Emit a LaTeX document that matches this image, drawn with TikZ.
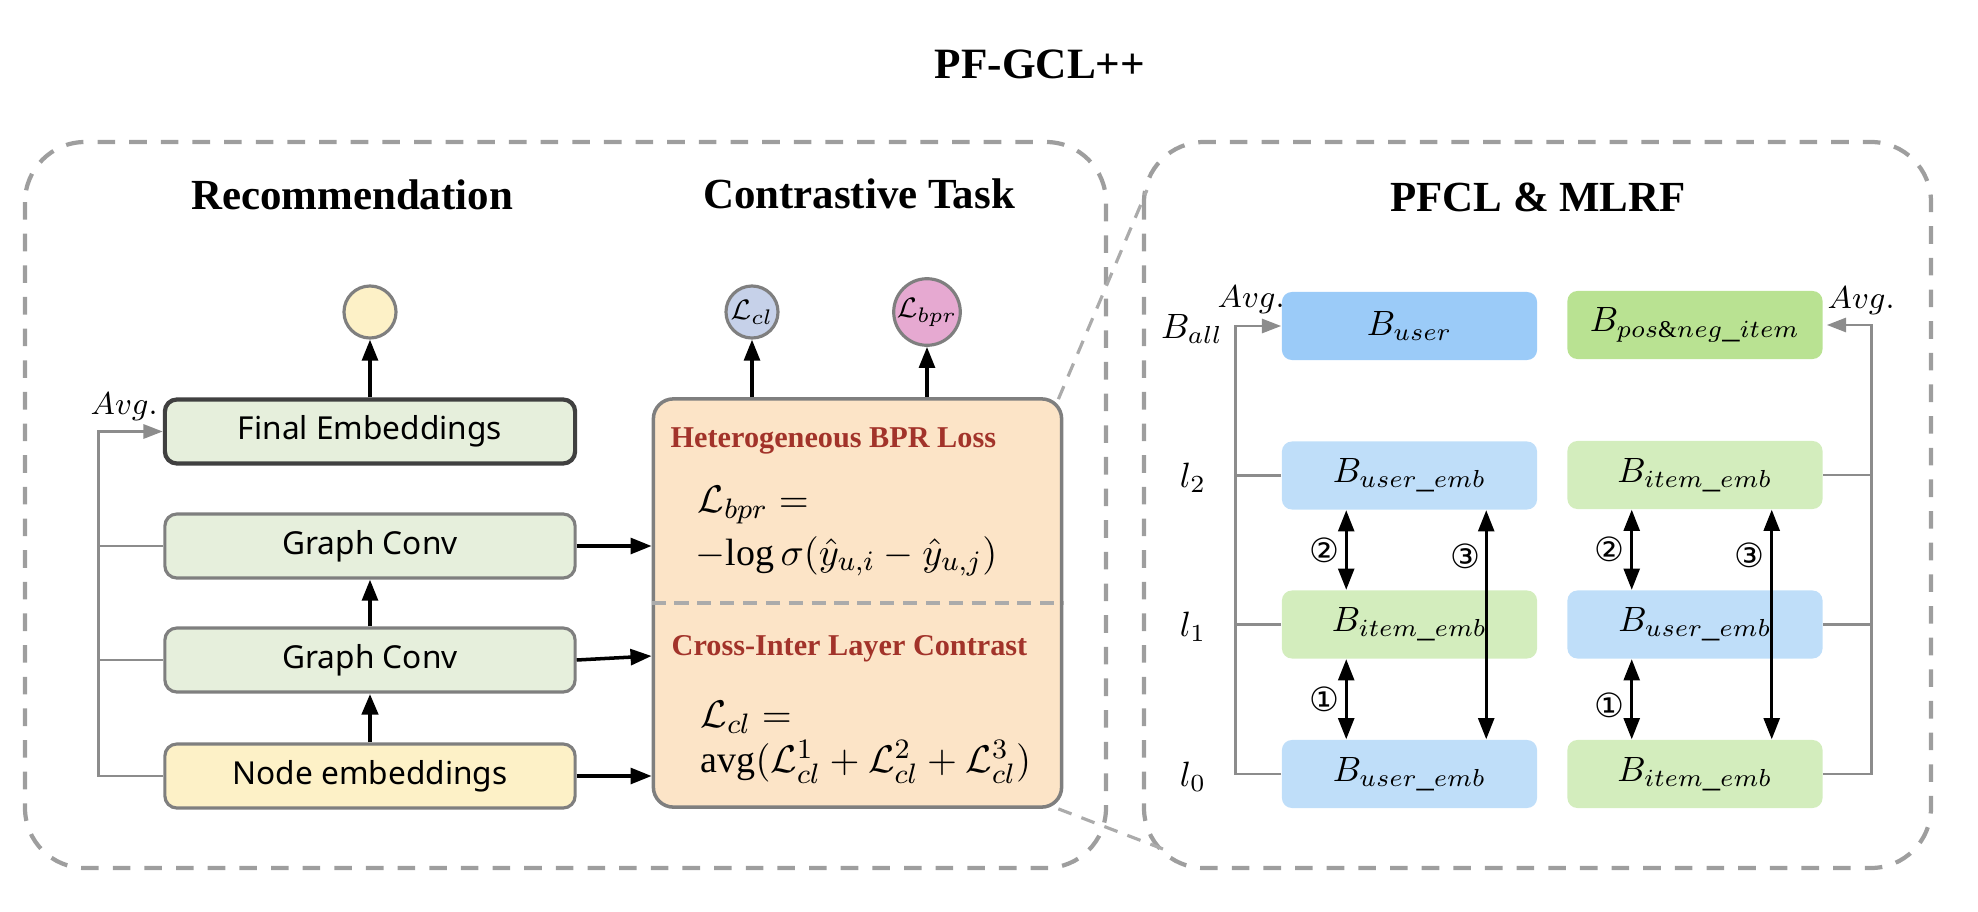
\documentclass[tikz,border=0pt]{standalone}
\usepackage{fontspec}
\setmainfont{Liberation Serif}
\newfontfamily\notosans{Noto Sans}
\newfontfamily\dejavu{DejaVu Sans}
\usetikzlibrary{arrows.meta,calc,positioning}

\definecolor{panelgray}{HTML}{9E9E9E}
\definecolor{zoomgray}{HTML}{ABABAB}
\definecolor{boxgray}{HTML}{7F7F7F}
\definecolor{finborder}{HTML}{404040}
\definecolor{avggray}{HTML}{8C8C8C}
\definecolor{convgreen}{HTML}{E6EFDC}
\definecolor{embyellow}{HTML}{FDF1C7}
\definecolor{lossorange}{HTML}{FCE4C7}
\definecolor{headred}{HTML}{A2332A}
\definecolor{clblue}{HTML}{C6D1E9}
\definecolor{bprpink}{HTML}{E6A9D1}
\definecolor{userblue}{HTML}{9BCBF8}
\definecolor{itemgreen}{HTML}{B9E292}
\definecolor{userlight}{HTML}{BFDEF9}
\definecolor{itemlight}{HTML}{D3EDBD}

\tikzset{
  panel/.style={draw=panelgray, line width=1.2pt, dash pattern=on 5pt off 4pt, rounded corners=0.6cm},
  zoomline/.style={draw=zoomgray, line width=0.9pt, dash pattern=on 4pt off 3pt},
  bigtitle/.style={font=\bfseries\fontsize{12.3}{15}\selectfont},
  paneltitle/.style={font=\bfseries\fontsize{12.2}{14}\selectfont},
  layer/.style={draw=boxgray, line width=0.9pt, rounded corners=0.12cm, fill=convgreen,
    minimum width=4.1cm, minimum height=0.64cm, inner sep=0pt, font=\notosans\fontsize{9}{11}\selectfont},
  outnode/.style={circle, draw=boxgray, line width=0.9pt, minimum size=0.52cm, inner sep=0pt,
    font=\fontsize{8.5}{10}\selectfont},
  lossbox/.style={draw=boxgray, line width=1pt, rounded corners=0.2cm, fill=lossorange,
    minimum width=4.08cm, minimum height=4.08cm},
  losshead/.style={anchor=base west, inner sep=0pt, text=headred, font=\bfseries\fontsize{8.6}{10}\selectfont},
  lossmath/.style={anchor=base west, inner sep=0pt, font=\fontsize{10.8}{12}\selectfont},
  sep/.style={draw=zoomgray, line width=1pt, dash pattern=on 4pt off 2.5pt},
  blk/.style={rounded corners=0.1cm, minimum width=2.55cm, minimum height=0.68cm, inner sep=0pt,
    font=\fontsize{9.8}{11}\selectfont},
  lbl/.style={anchor=base, inner sep=0pt, font=\fontsize{10}{11}\selectfont},
  avglbl/.style={anchor=base west, inner sep=0pt, font=\fontsize{8.8}{10}\selectfont},
  numlbl/.style={inner sep=0pt, font=\dejavu\fontsize{9.5}{10}\selectfont},
  arr/.style={draw=black, line width=1pt, -{Triangle[length=6pt,width=4.5pt]}},
  dblarr/.style={draw=black, line width=0.8pt, {Triangle[length=6pt,width=4.5pt]}-{Triangle[length=6pt,width=4.5pt]}},
  avgline/.style={draw=avggray, line width=0.8pt},
  avgarrow/.style={avgline, -{Triangle[length=5.5pt,width=4pt]}}
}

\begin{document}
\begin{tikzpicture}[x=0.01cm, y=-0.01cm]
\useasboundingbox (0,0) rectangle (1978,912);

\draw[panel] (25,142) rectangle (1106,868);
\draw[panel] (1144,142) rectangle (1931,868);

\node[bigtitle, anchor=base] (ttl) at (1040,78) {PF-GCL++};
\node[paneltitle, anchor=base] (trec) at (352,209) {Recommendation};
\node[paneltitle, anchor=base] (tcon) at (859,208) {Contrastive Task};
\node[paneltitle, anchor=base] (tpf) at (1538,211) {PFCL \& MLRF};

% recommendation
\node[layer, draw=finborder, line width=1.2pt] (fin) at (370,431.5) {Final Embeddings};
\node[layer] (gc2) at (370,546) {Graph Conv};
\node[layer] (gc1) at (370,660) {Graph Conv};
\node[layer, fill=embyellow] (emb) at (370,776) {Node embeddings};
\node[outnode, fill=embyellow] (out) at (370,312) {};

\draw[arr] (fin.north) -- (out.south);
\draw[arr] (gc1.north) -- (gc2.south);
\draw[arr, line width=1.4pt] (emb.north) -- (gc1.south);

\draw[avgarrow] (emb.west) -- ++(-65,0) |- (fin.west);
\foreach \n in {gc2,gc1}
  \draw[avgline] (\n.west) -- ++(-65,0);
\node[avglbl] (avgrec) at (90,414) {$Avg.$};

% contrastive task
\node[lossbox] (cont) at (857.5,603) {};
\draw[sep] (cont.west) -- (cont.east);
\node[losshead] (hbpr) at (670,447) {Heterogeneous BPR Loss};
\node[lossmath] (fbpra) at (697,512) {$\mathcal{L}_{bpr} =$};
\node[lossmath] (fbprb) at (695,565) {$-\mathrm{log}\,\sigma(\hat{y}_{u,i} - \hat{y}_{u,j})$};
\node[losshead] (hcl) at (671,655) {Cross-Inter Layer Contrast};
\node[lossmath] (fcla) at (700,727) {$\mathcal{L}_{cl} =$};
\node[lossmath] (fclb) at (700,772) {$\mathrm{avg}(\mathcal{L}^1_{cl} + \mathcal{L}^2_{cl} + \mathcal{L}^3_{cl})$};

\node[outnode, fill=clblue] (lcl) at (752,312) {$\mathcal{L}_{cl}$};
\node[outnode, fill=bprpink] (lbpr) at (927,312) {$\mathcal{L}_{bpr}$};
\draw[arr] (cont.north -| lcl) -- (lcl.south);
\draw[arr] (cont.north -| lbpr) -- (lbpr.south);

\draw[arr] (gc2.east) -- (gc2.east -| cont.west);
\draw[arr] (gc1.east) -- ($(gc1.east -| cont.west)+(0,-4)$);
\draw[arr] (emb.east) -- (emb.east -| cont.west);

% zoom lines
\coordinate (pfnw) at (1147,190);
\coordinate (pfsw) at (1163,849);
\draw[zoomline] ($(cont.north east)+(-5,2)$) -- (pfnw);
\draw[zoomline] ($(cont.south east)+(-5,0)$) -- (pfsw);

% PFCL & MLRF
\node[blk, fill=userblue] (bu) at (1409.5,326) {$B_{user}$};
\node[blk, fill=itemgreen] (bp) at (1695,325) {$B_{pos\&neg\_item}$};
\node[blk, fill=userlight] (lu2) at (1409.5,475.5) {$B_{user\_emb}$};
\node[blk, fill=itemlight] (ri2) at (1695,475) {$B_{item\_emb}$};
\node[blk, fill=itemlight] (li1) at (1409.5,624.5) {$B_{item\_emb}$};
\node[blk, fill=userlight] (ru1) at (1695,624.5) {$B_{user\_emb}$};
\node[blk, fill=userlight] (lu0) at (1409.5,774) {$B_{user\_emb}$};
\node[blk, fill=itemlight] (ri0) at (1695,774) {$B_{item\_emb}$};

\node[lbl] (lall) at (1192,338) {$B_{all}$};
\node[lbl] (ltwo) at (1193,487) {$l_2$};
\node[lbl] (lone) at (1193,636) {$l_1$};
\node[lbl] (lzero) at (1193,786) {$l_0$};
\node[avglbl] (avgl) at (1217,307) {$Avg.$};
\node[avglbl] (avgr) at (1827,308) {$Avg.$};

\draw[avgarrow] (lu0.west) -- ++(-46,0) |- (bu.west);
\draw[avgarrow, shorten >=1pt] (ri0.east) -- ++(48,0) |- (bp.east);
\foreach \n in {lu2,li1}
  \draw[avgline] (\n.west) -- ++(-46,0);
\foreach \n in {ri2,ru1}
  \draw[avgline] (\n.east) -- ++(48,0);

\foreach \a/\b in {lu2/li1,li1/lu0,ri2/ru1,ru1/ri0}
  \draw[dblarr] ($(\a.south west)+(65,0)$) -- ($(\b.north west)+(65,0)$);
\foreach \a/\b in {lu2/lu0,ri2/ri0}
  \draw[dblarr] ($(\a.south west)+(205,0)$) -- ($(\b.north west)+(205,0)$);

\node[numlbl] (ntwol) at (1324,550) {②};
\node[numlbl] (nthreel) at (1465,556) {③};
\node[numlbl] (nonel) at (1324,699) {①};
\node[numlbl] (ntwor) at (1609,549) {②};
\node[numlbl] (nthreer) at (1749,555) {③};
\node[numlbl] (noner) at (1609,705) {①};
\end{tikzpicture}
\end{document}
